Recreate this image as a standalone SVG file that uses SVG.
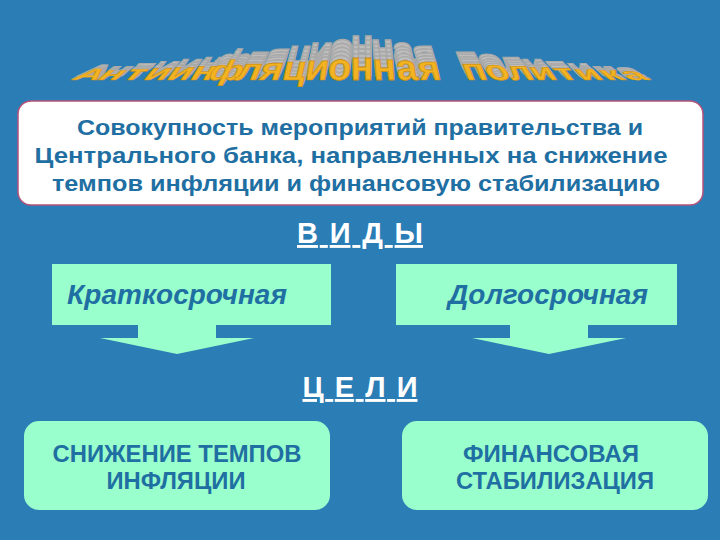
<svg xmlns="http://www.w3.org/2000/svg" xmlns:xlink="http://www.w3.org/1999/xlink" width="720" height="540" viewBox="0 0 720 540">
<style>
.bg{fill:#2a7db5}
.wa{font-family:"Liberation Sans",Arial,sans-serif;font-weight:bold;font-size:40px}
.gray{fill:#bdbdbd;stroke:#a9a9a9;stroke-width:1.5}
.gold{fill:#f2b322;stroke:#c98a10;stroke-width:0.8}
.def{fill:#ffffff;stroke:#b5527a;stroke-width:1.5}
.deft{font-family:"Liberation Sans",Arial,sans-serif;font-weight:bold;font-size:22px;fill:#1f6fa3}
.head{font-family:"Liberation Sans",Arial,sans-serif;font-weight:bold;font-size:29px;fill:#ffffff;text-decoration:underline}
.aqua{fill:#99ffcc}
.kind{font-family:"Liberation Sans",Arial,sans-serif;font-weight:bold;font-style:italic;font-size:28px;fill:#1f6fa3}
.goal{font-family:"Liberation Sans",Arial,sans-serif;font-weight:bold;font-size:23px;fill:#1f6fa3}
</style>
<rect class="bg" x="0" y="0" width="720" height="540"/>

<g id="title">
  <g class="gray wa" text-anchor="middle">
    <use xlink:href="#w0" x="6.2" y="-3.6"/><use xlink:href="#w0" x="5.0" y="-2.9"/><use xlink:href="#w0" x="3.7" y="-2.2"/><use xlink:href="#w0" x="2.5" y="-1.4"/><use xlink:href="#w0" x="1.2" y="-0.7"/>
    <use xlink:href="#w1" x="6.6" y="-4.5"/><use xlink:href="#w1" x="5.3" y="-3.6"/><use xlink:href="#w1" x="4.0" y="-2.7"/><use xlink:href="#w1" x="2.6" y="-1.8"/><use xlink:href="#w1" x="1.3" y="-0.9"/>
    <use xlink:href="#w2" x="7.0" y="-5.6"/><use xlink:href="#w2" x="5.6" y="-4.5"/><use xlink:href="#w2" x="4.2" y="-3.4"/><use xlink:href="#w2" x="2.8" y="-2.2"/><use xlink:href="#w2" x="1.4" y="-1.1"/>
    <use xlink:href="#w3" x="7.3" y="-6.8"/><use xlink:href="#w3" x="5.8" y="-5.4"/><use xlink:href="#w3" x="4.4" y="-4.1"/><use xlink:href="#w3" x="2.9" y="-2.7"/><use xlink:href="#w3" x="1.5" y="-1.4"/>
    <use xlink:href="#w4" x="7.3" y="-8.0"/><use xlink:href="#w4" x="5.8" y="-6.4"/><use xlink:href="#w4" x="4.4" y="-4.8"/><use xlink:href="#w4" x="2.9" y="-3.2"/><use xlink:href="#w4" x="1.5" y="-1.6"/>
    <use xlink:href="#w5" x="7.3" y="-9.4"/><use xlink:href="#w5" x="5.8" y="-7.5"/><use xlink:href="#w5" x="4.4" y="-5.6"/><use xlink:href="#w5" x="2.9" y="-3.8"/><use xlink:href="#w5" x="1.5" y="-1.9"/>
    <use xlink:href="#w6" x="7.0" y="-10.8"/><use xlink:href="#w6" x="5.6" y="-8.6"/><use xlink:href="#w6" x="4.2" y="-6.5"/><use xlink:href="#w6" x="2.8" y="-4.3"/><use xlink:href="#w6" x="1.4" y="-2.2"/>
    <use xlink:href="#w7" x="6.5" y="-12.4"/><use xlink:href="#w7" x="5.2" y="-9.9"/><use xlink:href="#w7" x="3.9" y="-7.4"/><use xlink:href="#w7" x="2.6" y="-5.0"/><use xlink:href="#w7" x="1.3" y="-2.5"/>
    <use xlink:href="#w8" x="5.8" y="-14.1"/><use xlink:href="#w8" x="4.6" y="-11.3"/><use xlink:href="#w8" x="3.5" y="-8.5"/><use xlink:href="#w8" x="2.3" y="-5.6"/><use xlink:href="#w8" x="1.2" y="-2.8"/>
    <use xlink:href="#w9" x="4.9" y="-15.9"/><use xlink:href="#w9" x="3.9" y="-12.7"/><use xlink:href="#w9" x="2.9" y="-9.5"/><use xlink:href="#w9" x="2.0" y="-6.4"/><use xlink:href="#w9" x="1.0" y="-3.2"/>
    <use xlink:href="#w10" x="3.6" y="-17.9"/><use xlink:href="#w10" x="2.9" y="-14.3"/><use xlink:href="#w10" x="2.2" y="-10.7"/><use xlink:href="#w10" x="1.4" y="-7.2"/><use xlink:href="#w10" x="0.7" y="-3.6"/>
    <use xlink:href="#w11" x="2.0" y="-19.9"/><use xlink:href="#w11" x="1.6" y="-15.9"/><use xlink:href="#w11" x="1.2" y="-11.9"/><use xlink:href="#w11" x="0.8" y="-8.0"/><use xlink:href="#w11" x="0.4" y="-4.0"/>
    <use xlink:href="#w12" x="0" y="-22"/><use xlink:href="#w12" x="0" y="-17.6"/><use xlink:href="#w12" x="0" y="-13.2"/><use xlink:href="#w12" x="0" y="-8.8"/><use xlink:href="#w12" x="0" y="-4.4"/>
    <use xlink:href="#w13" x="-2.0" y="-19.9"/><use xlink:href="#w13" x="-1.6" y="-15.9"/><use xlink:href="#w13" x="-1.2" y="-11.9"/><use xlink:href="#w13" x="-0.8" y="-8.0"/><use xlink:href="#w13" x="-0.4" y="-4.0"/>
    <use xlink:href="#w14" x="-3.6" y="-17.9"/><use xlink:href="#w14" x="-2.9" y="-14.3"/><use xlink:href="#w14" x="-2.2" y="-10.7"/><use xlink:href="#w14" x="-1.4" y="-7.2"/><use xlink:href="#w14" x="-0.7" y="-3.6"/>
    <use xlink:href="#w15" x="-4.9" y="-15.9"/><use xlink:href="#w15" x="-3.9" y="-12.7"/><use xlink:href="#w15" x="-2.9" y="-9.5"/><use xlink:href="#w15" x="-2.0" y="-6.4"/><use xlink:href="#w15" x="-1.0" y="-3.2"/>
    <use xlink:href="#w17" x="-6.5" y="-12.4"/><use xlink:href="#w17" x="-5.2" y="-9.9"/><use xlink:href="#w17" x="-3.9" y="-7.4"/><use xlink:href="#w17" x="-2.6" y="-5.0"/><use xlink:href="#w17" x="-1.3" y="-2.5"/>
    <use xlink:href="#w18" x="-7.0" y="-10.8"/><use xlink:href="#w18" x="-5.6" y="-8.6"/><use xlink:href="#w18" x="-4.2" y="-6.5"/><use xlink:href="#w18" x="-2.8" y="-4.3"/><use xlink:href="#w18" x="-1.4" y="-2.2"/>
    <use xlink:href="#w19" x="-7.3" y="-9.4"/><use xlink:href="#w19" x="-5.8" y="-7.5"/><use xlink:href="#w19" x="-4.4" y="-5.6"/><use xlink:href="#w19" x="-2.9" y="-3.8"/><use xlink:href="#w19" x="-1.5" y="-1.9"/>
    <use xlink:href="#w20" x="-7.3" y="-8.0"/><use xlink:href="#w20" x="-5.8" y="-6.4"/><use xlink:href="#w20" x="-4.4" y="-4.8"/><use xlink:href="#w20" x="-2.9" y="-3.2"/><use xlink:href="#w20" x="-1.5" y="-1.6"/>
    <use xlink:href="#w21" x="-7.3" y="-6.8"/><use xlink:href="#w21" x="-5.8" y="-5.4"/><use xlink:href="#w21" x="-4.4" y="-4.1"/><use xlink:href="#w21" x="-2.9" y="-2.7"/><use xlink:href="#w21" x="-1.5" y="-1.4"/>
    <use xlink:href="#w22" x="-7.0" y="-5.6"/><use xlink:href="#w22" x="-5.6" y="-4.5"/><use xlink:href="#w22" x="-4.2" y="-3.4"/><use xlink:href="#w22" x="-2.8" y="-2.2"/><use xlink:href="#w22" x="-1.4" y="-1.1"/>
    <use xlink:href="#w23" x="-6.6" y="-4.5"/><use xlink:href="#w23" x="-5.3" y="-3.6"/><use xlink:href="#w23" x="-4.0" y="-2.7"/><use xlink:href="#w23" x="-2.6" y="-1.8"/><use xlink:href="#w23" x="-1.3" y="-0.9"/>
    <use xlink:href="#w24" x="-6.2" y="-3.6"/><use xlink:href="#w24" x="-5.0" y="-2.9"/><use xlink:href="#w24" x="-3.7" y="-2.2"/><use xlink:href="#w24" x="-2.5" y="-1.4"/><use xlink:href="#w24" x="-1.2" y="-0.7"/>
  </g>
  <g class="gold wa" text-anchor="middle">
    <text id="w0" transform="translate(83.6,80) skewX(-52.8) scale(0.95,0.405)">А</text>
    <text id="w1" transform="translate(106.8,80) skewX(-48.4) scale(0.95,0.454)">н</text>
    <text id="w2" transform="translate(130,80) skewX(-44) scale(0.95,0.504)">т</text>
    <text id="w3" transform="translate(153.2,80) skewX(-39.6) scale(0.95,0.554)">и</text>
    <text id="w4" transform="translate(176.4,80) skewX(-35.2) scale(0.95,0.603)">и</text>
    <text id="w5" transform="translate(199.6,80) skewX(-30.8) scale(0.95,0.653)">н</text>
    <text id="w6" transform="translate(222.8,80) skewX(-26.4) scale(0.95,0.702)">ф</text>
    <text id="w7" transform="translate(246,80) skewX(-22) scale(0.95,0.752)">л</text>
    <text id="w8" transform="translate(269.2,80) skewX(-17.6) scale(0.95,0.802)">я</text>
    <text id="w9" transform="translate(292.4,80) skewX(-13.2) scale(0.95,0.851)">ц</text>
    <text id="w10" transform="translate(315.6,80) skewX(-8.8) scale(0.95,0.901)">и</text>
    <text id="w11" transform="translate(338.8,80) skewX(-4.4) scale(0.95,0.95)">о</text>
    <text id="w12" transform="translate(362,80) scale(0.95,1)">н</text>
    <text id="w13" transform="translate(385.2,80) skewX(4.4) scale(0.95,0.95)">н</text>
    <text id="w14" transform="translate(408.4,80) skewX(8.8) scale(0.95,0.901)">а</text>
    <text id="w15" transform="translate(431.6,80) skewX(13.2) scale(0.95,0.851)">я</text>
    <text id="w17" transform="translate(478,80) skewX(22) scale(0.95,0.752)">п</text>
    <text id="w18" transform="translate(501.2,80) skewX(26.4) scale(0.95,0.702)">о</text>
    <text id="w19" transform="translate(524.4,80) skewX(30.8) scale(0.95,0.653)">л</text>
    <text id="w20" transform="translate(547.6,80) skewX(35.2) scale(0.95,0.603)">и</text>
    <text id="w21" transform="translate(570.8,80) skewX(39.6) scale(0.95,0.554)">т</text>
    <text id="w22" transform="translate(594,80) skewX(44) scale(0.95,0.504)">и</text>
    <text id="w23" transform="translate(617.2,80) skewX(48.4) scale(0.95,0.454)">к</text>
    <text id="w24" transform="translate(640.4,80) skewX(52.8) scale(0.95,0.405)">а</text>
  </g>
</g>

<g id="definition">
  <rect class="def" x="18" y="101" width="685" height="104" rx="13" ry="13"/>
  <text class="deft" x="360" y="135" text-anchor="middle" textLength="566" lengthAdjust="spacingAndGlyphs">Совокупность мероприятий правительства  и</text>
  <text class="deft" x="351" y="163" text-anchor="middle" textLength="633" lengthAdjust="spacingAndGlyphs">Центрального банка, направленных на снижение</text>
  <text class="deft" x="356" y="191" text-anchor="middle" textLength="608" lengthAdjust="spacingAndGlyphs">темпов инфляции и финансовую стабилизацию</text>
</g>

<g id="label-vidy">
  <text class="head" x="360" y="243" text-anchor="middle" textLength="126" lengthAdjust="spacing">В И Д Ы</text>
</g>

<g id="kind-short">
  <rect class="aqua" x="52" y="264" width="279" height="61"/>
  <text class="kind" x="177" y="304" text-anchor="middle">Краткосрочная</text>
</g>

<g id="kind-long">
  <rect class="aqua" x="396" y="264" width="281" height="61"/>
  <text class="kind" x="548" y="304" text-anchor="middle">Долгосрочная</text>
</g>

<g id="connectors">
  <polygon class="aqua" points="138,324 216,324 216,338 254,338 177,354 100,338 138,338"/>
  <polygon class="aqua" points="510,324 588,324 588,338 626,338 549,354 472,338 510,338"/>
</g>

<g id="label-celi">
  <text class="head" x="360" y="397" text-anchor="middle" textLength="115" lengthAdjust="spacing">Ц Е Л И</text>
</g>

<g id="goal-inflation">
  <rect class="aqua" x="24" y="421" width="306" height="89" rx="15" ry="15"/>
  <text class="goal" x="177" y="462" text-anchor="middle" textLength="249" lengthAdjust="spacingAndGlyphs">СНИЖЕНИЕ ТЕМПОВ</text>
  <text class="goal" x="176" y="489" text-anchor="middle" textLength="139" lengthAdjust="spacingAndGlyphs">ИНФЛЯЦИИ</text>
</g>

<g id="goal-stabilization">
  <rect class="aqua" x="402" y="421" width="306" height="89" rx="15" ry="15"/>
  <text class="goal" x="551" y="462" text-anchor="middle" textLength="176" lengthAdjust="spacingAndGlyphs">ФИНАНСОВАЯ</text>
  <text class="goal" x="555" y="489" text-anchor="middle" textLength="198" lengthAdjust="spacingAndGlyphs">СТАБИЛИЗАЦИЯ</text>
</g>
</svg>
